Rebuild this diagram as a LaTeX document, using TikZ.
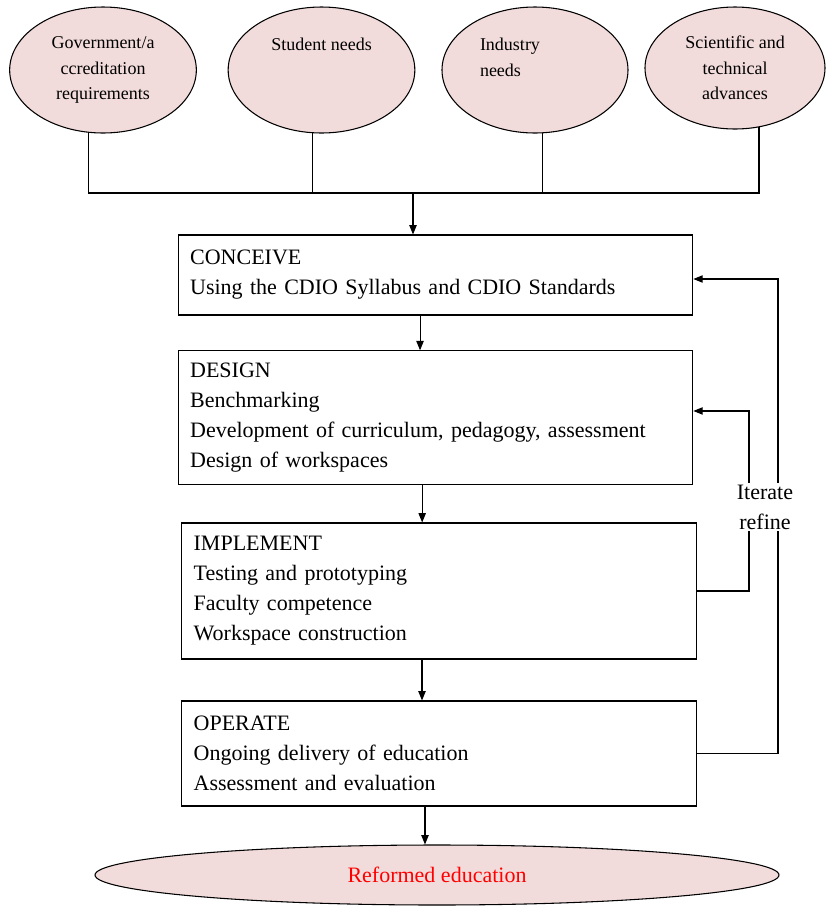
\documentclass[tikz,border=0pt]{standalone}
\usepackage{fontspec}
\setmainfont{Liberation Serif}
\usetikzlibrary{shapes.geometric,arrows.meta}
\definecolor{pinkfill}{RGB}{242,220,219}

\begin{document}
\begin{tikzpicture}[x=0.75pt, y=-0.75pt, line width=0.8pt, >={Triangle[length=7pt,width=5.5pt]}]
  \tikzstyle{source} = [ellipse, draw, fill=pinkfill, inner sep=0pt, align=center,
                        font=\fontsize{13.5}{19}\selectfont]
  \tikzstyle{stage} = [rectangle, draw, minimum width=386pt, text width=368pt, align=left,
                        inner sep=9pt, font=\fontsize{16.5}{22.5}\selectfont]
\useasboundingbox (0,0) rectangle (826,908);

\node[source, minimum width=140pt, minimum height=94.5pt] (gov) at (103,70) {Government/a\\ccreditation\\requirements};
\node[source, minimum width=140pt, minimum height=94.5pt] (student) at (321.5,70) {Student needs\\ \\ };
\node[source, minimum width=139.5pt, minimum height=94.5pt, text width=82.5pt, align=left] (industry) at (535,70) {Industry\\needs\\ \mbox{}};
\node[source, minimum width=135pt, minimum height=91.5pt] (science) at (735,68) {Scientific and\\technical\\advances};

\node[stage, minimum height=60pt] (conceive) at (435.5,275) {CONCEIVE\\Using the CDIO Syllabus and CDIO Standards};
\node[stage, minimum height=99.75pt] (design) at (435.5,417.5) {DESIGN\\Benchmarking\\Development of curriculum, pedagogy, assessment\\Design of workspaces};
\node[stage, minimum height=102pt] (implement) at (439,591) {IMPLEMENT\\Testing and prototyping\\Faculty competence\\Workspace construction};
\node[stage, minimum height=78.75pt] (operate) at (439,753.5) {OPERATE\\Ongoing delivery of education\\Assessment and evaluation};

\node[ellipse, draw, fill=pinkfill, inner sep=0pt, minimum width=513pt, minimum height=45pt,
      text=red, font=\fontsize{16.5}{20}\selectfont] (reformed) at (437,875) {Reformed education};
\node[align=center, inner sep=1pt, font=\fontsize{16.5}{22.5}\selectfont] (iter) at (765,507) {Iterate\\refine};

\coordinate (join) at (413,193);
\draw (gov.257) -- (gov.257 |- join) -- (science.292 |- join) -- (science.292);
\draw (student.262) -- (student.262 |- join);
\draw (industry.277) -- (industry.277 |- join);
\draw[->] (join) -- (join |- conceive.north);

\draw[->] ([xshift=-11.6pt]conceive.south) -- ([xshift=-11.6pt]conceive.south |- design.north);
\draw[->] ([xshift=-10pt]design.south) -- ([xshift=-10pt]design.south |- implement.north);
\draw[->] ([xshift=-12.75pt]implement.south) -- ([xshift=-12.75pt]implement.south |- operate.north);
\draw[->] ([xshift=-10.5pt]operate.south) -- ([xshift=-10.5pt]operate.south |- reformed.north);

\draw (implement.east) -| ([xshift=-12pt]iter.south);
\draw[->] ([xshift=-12pt]iter.north) |- ([yshift=4.9pt]design.east);
\draw (operate.east) -| ([xshift=9.75pt]iter.south);
\draw[->] ([xshift=9.75pt]iter.north) |- ([yshift=-3pt]conceive.east);
\end{tikzpicture}
\end{document}
